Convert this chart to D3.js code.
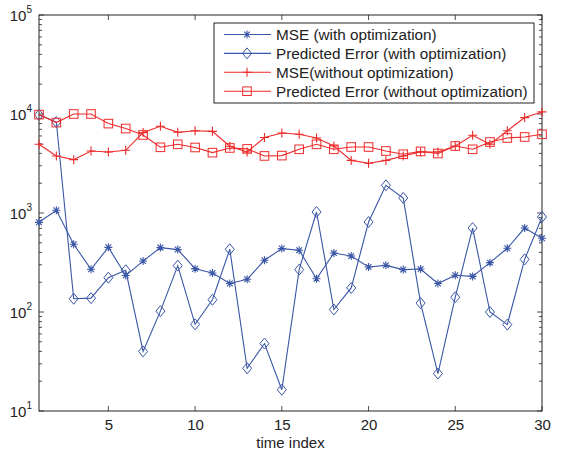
<!DOCTYPE html>
<html>
<head>
<meta charset="utf-8">
<script src="https://cdn.jsdelivr.net/npm/d3@7/dist/d3.min.js"></script>
<style>
  body { margin: 0; background: #fff; }
  text { font-family: "Liberation Sans", Arial, sans-serif; fill: #222; }
</style>
</head>
<body>
<div id="chart"></div>
<script>
// data
var timeIndex = d3.range(1, 31);
var mseOpt = [805, 1065, 483, 270, 450, 234, 327, 447, 427, 274, 248, 194, 214, 333, 437,
  420, 217, 394, 368, 285, 296, 268, 272, 194, 235, 229, 315, 440, 705, 555];
var predOpt = [9800, 8300, 136, 138, 222, 264, 40, 102, 294, 75, 133, 430, 27, 48, 16.4,
  268, 1023, 106, 175, 811, 1905, 1418, 123, 23.9, 141, 705, 100, 74.6, 340, 912];
var mseNoOpt = [4940, 3770, 3460, 4230, 4130, 4300, 6490, 7510, 6530, 6780, 6680, 4720, 4130, 5780, 6430,
  6240, 5730, 4750, 3400, 3180, 3400, 3770, 4130, 4130, 4750, 6090, 4940, 6780, 9200, 10500];
var predNoOpt = [9860, 8190, 10000, 10000, 8000, 7130, 6140, 4610, 4940, 4590, 4070, 4540, 4440, 3770, 3800,
  4400, 4940, 4400, 4640, 4640, 4230, 3920, 4190, 3990, 4750, 4400, 5210, 5730, 5860, 6240];
var xTicks = [5, 10, 15, 20, 25, 30];
var yTicks = [10, 100, 1000, 10000, 100000];

var blue = "#3a56a6";
var red = "#ee2a2a";

var series = [
  { name: "MSE (with optimization)", values: mseOpt, color: blue, marker: "star" },
  { name: "Predicted Error (with optimization)", values: predOpt, color: blue, marker: "diamond" },
  { name: "MSE(without optimization)", values: mseNoOpt, color: red, marker: "plus" },
  { name: "Predicted Error (without optimization)", values: predNoOpt, color: red, marker: "square" }
];

var svgWidth = 566, svgHeight = 456;
var margin = { top: 15, right: 24, bottom: 45, left: 39 };
var width = svgWidth - margin.left - margin.right;
var height = svgHeight - margin.top - margin.bottom;

var svg = d3.select("#chart").append("svg")
  .attr("width", svgWidth)
  .attr("height", svgHeight);

var chartGroup = svg.append("g")
  .attr("transform", `translate(${margin.left}, ${margin.top})`);

var x = d3.scaleLinear().domain([1, 30]).range([0, width]);
var y = d3.scaleLog().domain([10, 100000]).range([height, 0]);

// minor ticks of the log axis
var minorTicks = [];
[10, 100, 1000, 10000].forEach(function(d) {
  for (var k = 2; k <= 9; k++) minorTicks.push(d * k);
});

function drawTicks(g, side) {
  var dir = side === "right" ? -1 : 1;
  var x0 = side === "right" ? width : 0;
  g.selectAll(null).data(minorTicks).enter().append("line")
    .attr("x1", x0).attr("x2", x0 + dir * 3)
    .attr("y1", d => y(d)).attr("y2", d => y(d))
    .attr("stroke", "#222").attr("stroke-width", 0.8);
  g.selectAll(null).data(yTicks).enter().append("line")
    .attr("x1", x0).attr("x2", x0 + dir * 5)
    .attr("y1", d => y(d)).attr("y2", d => y(d))
    .attr("stroke", "#222").attr("stroke-width", 0.8);
}
var tickGroup = chartGroup.append("g");
drawTicks(tickGroup, "left");
drawTicks(tickGroup, "right");
tickGroup.selectAll(null).data(xTicks).enter().append("line")
  .attr("x1", d => x(d)).attr("x2", d => x(d))
  .attr("y1", height).attr("y2", height - 5)
  .attr("stroke", "#222").attr("stroke-width", 0.8);
tickGroup.selectAll(null).data(xTicks).enter().append("line")
  .attr("x1", d => x(d)).attr("x2", d => x(d))
  .attr("y1", 0).attr("y2", 5)
  .attr("stroke", "#222").attr("stroke-width", 0.8);

// x axis labels
var xAxis = d3.axisBottom(x).tickValues(xTicks).tickSize(0).tickPadding(8);
var xg = chartGroup.append("g")
  .attr("transform", `translate(0, ${height})`)
  .call(xAxis);
xg.select(".domain").remove();
xg.selectAll("text").attr("font-size", "15px").attr("font-family", "Liberation Sans, Arial, sans-serif").attr("fill", "#222");

// y axis labels 10^n
var yLab = chartGroup.append("g").selectAll("text").data(yTicks).enter().append("text")
  .attr("x", -7)
  .attr("y", d => y(d) + 6)
  .attr("text-anchor", "end")
  .attr("font-size", "15px");
yLab.append("tspan").text("10");
yLab.append("tspan").attr("dy", "-8").attr("font-size", "10px").text(d => Math.round(Math.log10(d)));

// frame
chartGroup.append("rect")
  .attr("width", width).attr("height", height)
  .attr("fill", "none").attr("stroke", "#222").attr("stroke-width", 1);

// x axis title
svg.append("text")
  .attr("x", margin.left + width / 2)
  .attr("y", svgHeight - 8)
  .attr("text-anchor", "middle")
  .attr("font-size", "15px")
  .text("time index");

// markers
function drawMarker(g, type, color) {
  if (type === "star") {
    var r = 4;
    g.append("path")
      .attr("d", `M0,${-r}V${r}M${-r},0H${r}M${-r*0.72},${-r*0.72}L${r*0.72},${r*0.72}M${-r*0.72},${r*0.72}L${r*0.72},${-r*0.72}`)
      .attr("stroke", color).attr("stroke-width", 1.1).attr("fill", "none");
  } else if (type === "diamond") {
    g.append("path").attr("d", "M0,-5.5L4.5,0L0,5.5L-4.5,0Z")
      .attr("stroke", color).attr("stroke-width", 1).attr("fill", "none");
  } else if (type === "plus") {
    g.append("path").attr("d", "M0,-4.5V4.5M-4.5,0H4.5")
      .attr("stroke", color).attr("stroke-width", 1.1).attr("fill", "none");
  } else {
    g.append("rect").attr("x", -4.3).attr("y", -4.3).attr("width", 8.6).attr("height", 8.6)
      .attr("stroke", color).attr("stroke-width", 1).attr("fill", "none");
  }
}

var line = d3.line().x((d, i) => x(timeIndex[i])).y(d => y(d));

series.forEach(function(s) {
  var g = chartGroup.append("g");
  g.append("path")
    .attr("d", line(s.values))
    .attr("fill", "none")
    .attr("stroke", s.color)
    .attr("stroke-width", 1.1);
  g.selectAll("g.pt").data(s.values).enter().append("g")
    .attr("class", "pt")
    .attr("transform", (d, i) => `translate(${x(timeIndex[i])}, ${y(d)})`)
    .each(function() { drawMarker(d3.select(this), s.marker, s.color); });
});

// legend
var legend = svg.append("g").attr("transform", "translate(214, 23)");
legend.append("rect")
  .attr("width", 320).attr("height", 80)
  .attr("fill", "#fff").attr("stroke", "#222").attr("stroke-width", 1);
series.forEach(function(s, i) {
  var row = legend.append("g").attr("transform", `translate(0, ${11.5 + i * 18.9})`);
  row.append("line").attr("x1", 10).attr("x2", 57).attr("y1", 0).attr("y2", 0)
    .attr("stroke", s.color).attr("stroke-width", 1.1);
  drawMarker(row.append("g").attr("transform", "translate(33, 0)"), s.marker, s.color);
  row.append("text").attr("x", 62).attr("y", 5.5).attr("font-size", "15.3px").text(s.name);
});
</script>
</body>
</html>
